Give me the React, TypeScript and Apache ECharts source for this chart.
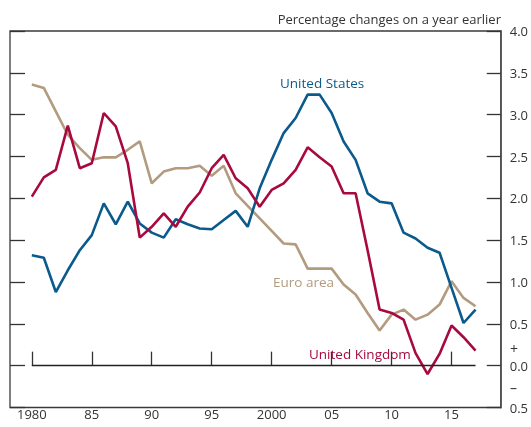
import React, { useEffect, useRef } from "react";
import * as echarts from "echarts";

const years: number[] = [];
for (let y = 1980; y <= 2017; y++) years.push(y);

const unitedStates = [
  1.32, 1.29, 0.88, 1.14, 1.38, 1.56, 1.94, 1.69, 1.96, 1.70,
  1.59, 1.53, 1.75, 1.69, 1.64, 1.63, 1.74, 1.85, 1.66, 2.12,
  2.46, 2.78, 2.96, 3.24, 3.24, 3.02, 2.68, 2.46, 2.06, 1.96,
  1.94, 1.59, 1.52, 1.41, 1.35, 0.93, 0.51, 0.67,
];
const unitedKingdom = [
  2.02, 2.25, 2.34, 2.87, 2.36, 2.42, 3.02, 2.86, 2.42, 1.53,
  1.66, 1.82, 1.66, 1.90, 2.07, 2.36, 2.52, 2.24, 2.12, 1.90,
  2.10, 2.18, 2.34, 2.61, 2.49, 2.38, 2.06, 2.06, 1.38, 0.67,
  0.63, 0.55, 0.15, -0.10, 0.14, 0.48, 0.34, 0.18,
];
const euroArea = [
  3.36, 3.32, 3.04, 2.76, 2.60, 2.46, 2.49, 2.49, 2.58, 2.68,
  2.18, 2.32, 2.36, 2.36, 2.39, 2.27, 2.39, 2.06, 1.91, 1.76,
  1.61, 1.46, 1.45, 1.16, 1.16, 1.16, 0.97, 0.85, 0.63, 0.42,
  0.61, 0.67, 0.55, 0.61, 0.73, 1.01, 0.81, 0.71,
];
const xTickYears = [1980, 1985, 1990, 1995, 2000, 2005, 2010, 2015];

const BLUE = "#0b5a8d";
const RED = "#a8093f";
const TAN = "#b39b7f";
const FONT = "'Open Sans', 'Noto Sans', sans-serif";
const TEXT = "#333333";

export default function App() {
  const ref = useRef<HTMLDivElement>(null);
  useEffect(() => {
    if (!ref.current) return;
    const chart = echarts.init(ref.current, undefined, { renderer: "svg" });
    const pair = (arr: number[]) => arr.map((v, i) => [years[i], v]);
    const xLabel = (v: number) =>
      v === 1980 || v === 2000 ? String(v) : String(v % 100).padStart(2, "0");
    chart.setOption({
      animation: false,
      textStyle: { fontFamily: FONT },
      grid: {
        left: 10,
        right: 30,
        top: 31,
        bottom: 19.5,
        show: true,
        borderColor: "#3a3a3a",
        borderWidth: 1.3,
        backgroundColor: "transparent",
      },
      xAxis: {
        type: "value",
        min: 1978.18,
        max: 2019.1,
        axisLine: { show: false },
        splitLine: { show: false },
        axisTick: {
          show: true,
          inside: true,
          length: 14,
          customValues: xTickYears,
          lineStyle: { color: "#333", width: 1.3 },
        },
        axisLabel: {
          show: true,
          customValues: xTickYears,
          formatter: xLabel,
          margin: 0,
          color: TEXT,
          fontSize: 13,
          fontFamily: FONT,
        },
      },
      yAxis: [
        {
          type: "value",
          position: "right",
          min: -0.5,
          max: 4,
          interval: 0.5,
          splitLine: { show: false },
          axisLine: { show: true, lineStyle: { color: "#555", width: 1.8 } },
          axisTick: {
            show: true,
            inside: true,
            length: 14,
            lineStyle: { color: "#333", width: 1.3 },
          },
          axisLabel: {
            margin: 9,
            color: TEXT,
            fontSize: 13,
            fontFamily: FONT,
            formatter: (v: number) => Math.abs(v).toFixed(1),
          },
        },
        {
          type: "value",
          position: "left",
          min: -0.5,
          max: 4,
          interval: 0.5,
          splitLine: { show: false },
          axisLine: { show: false },
          axisTick: {
            show: true,
            inside: true,
            length: 15,
            lineStyle: { color: "#333", width: 1.3 },
          },
          axisLabel: { show: false },
        },
      ],
      series: [
        {
          name: "Euro area",
          type: "line",
          data: pair(euroArea),
          symbol: "none",
          lineStyle: { color: TAN, width: 2.6 },
          z: 2,
        },
        {
          name: "United States",
          type: "line",
          data: pair(unitedStates),
          symbol: "none",
          lineStyle: { color: BLUE, width: 2.6 },
          z: 3,
        },
        {
          name: "United Kingdom",
          type: "line",
          data: pair(unitedKingdom),
          symbol: "none",
          lineStyle: { color: RED, width: 2.6 },
          z: 4,
          markLine: {
            silent: true,
            symbol: "none",
            label: { show: false },
            lineStyle: { color: "#222", width: 1.3, type: "solid" },
            data: [[{ coord: [years[0], 0] }, { coord: [years[years.length - 1], 0] }]],
          },
        },
      ],
      graphic: [
        {
          type: "text",
          x: 501,
          y: 19,
          style: {
            text: "Percentage changes on a year earlier",
            fill: TEXT,
            font: `13px ${FONT}`,
            align: "right",
            verticalAlign: "middle",
          },
        },
        {
          type: "text",
          x: 510,
          y: 348,
          style: { text: "+", fill: TEXT, font: `14px ${FONT}`, verticalAlign: "middle" },
        },
        {
          type: "text",
          x: 510,
          y: 387,
          style: { text: "–", fill: TEXT, font: `14px ${FONT}`, verticalAlign: "middle" },
        },
        {
          type: "text",
          x: 280,
          y: 83,
          style: { text: "United States", fill: BLUE, font: `13.5px ${FONT}`, verticalAlign: "middle" },
        },
        {
          type: "text",
          x: 273,
          y: 282,
          style: { text: "Euro area", fill: TAN, font: `13.5px ${FONT}`, verticalAlign: "middle" },
        },
        {
          type: "text",
          x: 309,
          y: 354,
          style: { text: "United Kingdom", fill: RED, font: `13.5px ${FONT}`, verticalAlign: "middle" },
        },
      ],
    });
    return () => chart.dispose();
  }, []);
  return (
    <div
      ref={ref}
      style={{ position: "fixed", left: 0, top: 0, width: 531, height: 427 }}
    />
  );
}
